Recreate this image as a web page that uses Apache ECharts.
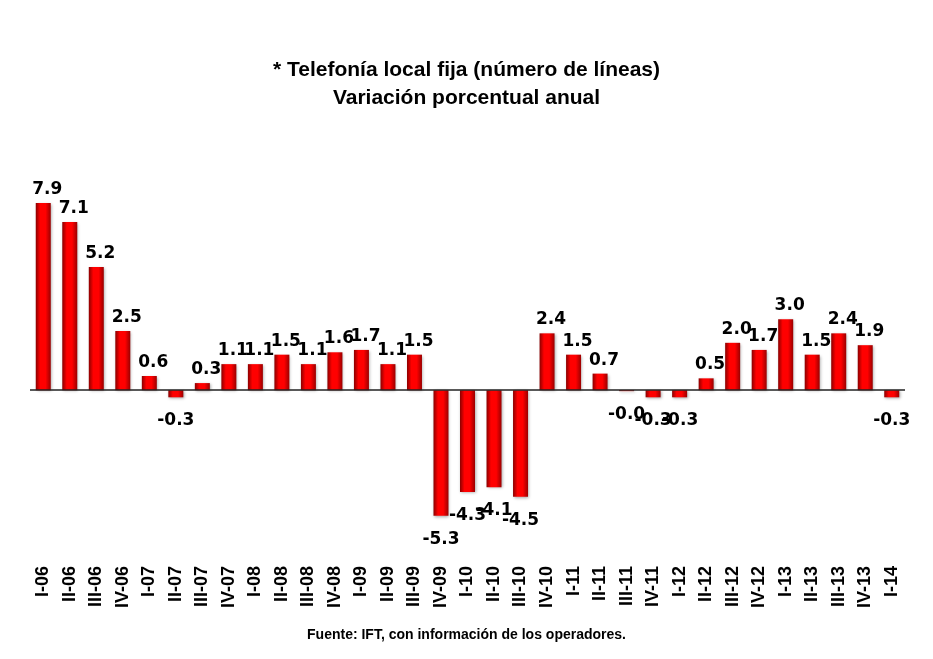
<!DOCTYPE html>
<html>
<head>
<meta charset="utf-8">
<script src="https://cdn.jsdelivr.net/npm/echarts@6/dist/echarts.min.js"></script>
<style>
html,body{margin:0;padding:0;background:#fff;}
#chart{width:933px;height:659px;}
</style>
</head>
<body>
<div id="chart"></div>
<script>
const categories = ["I-06","II-06","III-06","IV-06","I-07","II-07","III-07","IV-07","I-08","II-08","III-08","IV-08","I-09","II-09","III-09","IV-09","I-10","II-10","III-10","IV-10","I-11","II-11","III-11","IV-11","I-12","II-12","III-12","IV-12","I-13","II-13","III-13","IV-13","I-14"];
const values = [7.9,7.1,5.2,2.5,0.6,-0.3,0.3,1.1,1.1,1.5,1.1,1.6,1.7,1.1,1.5,-5.3,-4.3,-4.1,-4.5,2.4,1.5,0.7,-0.04,-0.3,-0.3,0.5,2.0,1.7,3.0,1.5,2.4,1.9,-0.3];
const titleLines = ["* Telefonía local fija (número de líneas)", "Variación porcentual anual"];
const sourceText = "Fuente: IFT, con información de los operadores.";

const chart = echarts.init(document.getElementById('chart'), null, {renderer:'canvas'});

const barColor = new echarts.graphic.LinearGradient(0,0,1,0,[
  {offset:0, color:'#8a0000'},
  {offset:0.3, color:'#ff0000'},
  {offset:0.65, color:'#ff0000'},
  {offset:1, color:'#9a0000'}
]);

const seriesData = values.map(v => ({
  value: v,
  label: v >= 0 ? {distance: 5, offset:[4,0]} : {distance: 15, offset:[0,0]}
}));

chart.setOption({
  animation:false,
  backgroundColor:'#fff',
  title:{
    text: titleLines.join('\n'),
    left:'center',
    top:51,
    textStyle:{fontFamily:'Liberation Sans', fontWeight:'bold', fontSize:21, lineHeight:28, color:'#000'}
  },
  graphic:[{
    type:'text',
    left:'center',
    top:628,
    style:{text: sourceText, font:'bold 14px "Liberation Sans"', fill:'#000'}
  }],
  grid:{left:30, right:28, top:177, bottom:103, containLabel:false},
  xAxis:{
    type:'category',
    data:categories,
    position:'bottom',
    axisLine:{show:false, onZero:false},
    axisTick:{show:false},
    axisLabel:{rotate:90, interval:0, margin:10, fontFamily:'Liberation Sans', fontWeight:'bold', fontSize:18, color:'#000'}
  },
  yAxis:{
    type:'value',
    min:-7, max:9,
    show:false,
    splitLine:{show:false}
  },
  series:[{
    type:'bar',
    data:seriesData,
    barWidth:15,
    itemStyle:{color:barColor, shadowColor:'rgba(0,0,0,0.35)', shadowBlur:3, shadowOffsetX:1, shadowOffsetY:1},
    label:{
      show:true,
      position:'outside',
      fontFamily:'DejaVu Sans', fontWeight:'bold', fontSize:17, color:'#000',
      formatter: p => p.value.toFixed(1)
    },
    markLine:{
      silent:true,
      symbol:'none',
      label:{show:false},
      lineStyle:{color:'#222', width:1.5, type:'solid'},
      data:[{yAxis:0}]
    }
  }]
});
</script>
</body>
</html>
